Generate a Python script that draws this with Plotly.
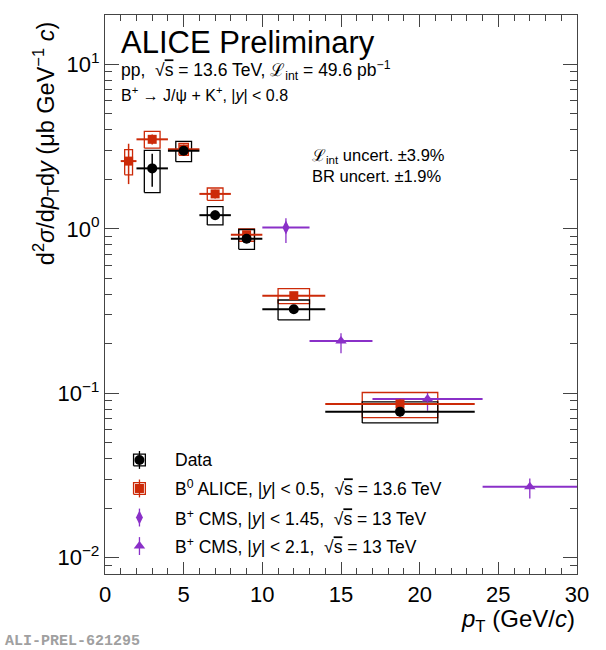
import plotly.graph_objects as go

# Data (black): B+ -> J/psi K+, |y|<0.8, 13.6 TeV
data_pt = [3, 5, 7, 9, 12, 18.75]
data_pt_lo = [2, 4, 6, 8, 10, 14]
data_pt_hi = [4, 6, 8, 10, 14, 23.5]
data_val = [2.33, 2.98, 1.21, 0.87, 0.324, 0.0773]
data_stat = [0.53, 0.15, 0.08, 0.05, 0.02, 0.005]
data_syst = [0.67, 0.42, 0.155, 0.12, 0.045, 0.0113]
data_box_hw = [0.5, 0.5, 0.5, 0.5, 1.0, 2.4]

# B0 ALICE, |y|<0.5, 13.6 TeV (red)
b0_pt = [1.5, 3, 5, 7, 9, 12, 18.75]
b0_pt_lo = [1, 2, 4, 6, 8, 10, 14]
b0_pt_hi = [2, 4, 6, 8, 10, 14, 23.5]
b0_val = [2.58, 3.50, 3.05, 1.63, 0.92, 0.392, 0.0861]
b0_stat = [0.71, 0.25, 0.2, 0.1, 0.05, 0.02, 0.006]
b0_syst = [0.45, 0.41, 0.25, 0.14, 0.08, 0.041, 0.015]
b0_box_hw = [0.25, 0.5, 0.3, 0.5, 0.5, 1.0, 2.4]

# B+ CMS, |y|<1.45, 13 TeV (purple diamonds)
cms1_pt = [11.5]
cms1_pt_lo = [10]
cms1_pt_hi = [13]
cms1_val = [1.02]
cms1_err_up = [0.14]
cms1_err_dn = [0.20]

# B+ CMS, |y|<2.1, 13 TeV (purple triangles)
cms2_pt = [15, 20.5, 27]
cms2_pt_lo = [13, 17, 24]
cms2_pt_hi = [17, 24, 30]
cms2_val = [0.208, 0.0923, 0.027]
cms2_err_up = [0.024, 0.0084, 0.0033]
cms2_err_dn = [0.033, 0.014, 0.0041]

black = "#000000"
red = "#cc2a08"
purple = "#8a30c8"
font = "Liberation Sans"
rs = "√<span style='text-decoration:overline'>s</span>"


def boxes(xs, ys, hw, err):
    bx, by = [], []
    for x, y, w, e in zip(xs, ys, hw, err):
        bx += [x - w, x + w, x + w, x - w, x - w, None]
        by += [y - e, y - e, y + e, y + e, y - e, None]
    return bx, by


def xerr(pt, lo, hi):
    return [h - p for p, h in zip(pt, hi)], [p - l for p, l in zip(pt, lo)]


fig = go.Figure()

# systematic boxes
bx, by = boxes(b0_pt, b0_val, b0_box_hw, b0_syst)
fig.add_trace(go.Scatter(x=bx, y=by, mode="lines", line=dict(color=red, width=1.3),
                         showlegend=False, hoverinfo="skip"))
bx, by = boxes(data_pt, data_val, data_box_hw, data_syst)
fig.add_trace(go.Scatter(x=bx, y=by, mode="lines", line=dict(color=black, width=1.3),
                         showlegend=False, hoverinfo="skip"))

# CMS points
ep, em = xerr(cms1_pt, cms1_pt_lo, cms1_pt_hi)
fig.add_trace(go.Scatter(
    x=cms1_pt, y=cms1_val, mode="markers",
    marker=dict(symbol="diamond-tall", size=10, color=purple),
    error_x=dict(type="data", symmetric=False, array=ep, arrayminus=em, width=0, thickness=2, color=purple),
    error_y=dict(type="data", symmetric=False, array=cms1_err_up, arrayminus=cms1_err_dn, width=0, thickness=1.3, color=purple),
    showlegend=False))
ep, em = xerr(cms2_pt, cms2_pt_lo, cms2_pt_hi)
fig.add_trace(go.Scatter(
    x=cms2_pt, y=cms2_val, mode="markers",
    marker=dict(symbol="triangle-up", size=10, color=purple),
    error_x=dict(type="data", symmetric=False, array=ep, arrayminus=em, width=0, thickness=2, color=purple),
    error_y=dict(type="data", symmetric=False, array=cms2_err_up, arrayminus=cms2_err_dn, width=0, thickness=1.3, color=purple),
    showlegend=False))

# B0 ALICE
ep, em = xerr(b0_pt, b0_pt_lo, b0_pt_hi)
fig.add_trace(go.Scatter(
    x=b0_pt, y=b0_val, mode="markers",
    marker=dict(symbol="square", size=9, color=red),
    error_x=dict(type="data", symmetric=False, array=ep, arrayminus=em, width=0, thickness=2, color=red),
    error_y=dict(type="data", array=b0_stat, width=0, thickness=1.5, color=red),
    showlegend=False))

# Data
ep, em = xerr(data_pt, data_pt_lo, data_pt_hi)
fig.add_trace(go.Scatter(
    x=data_pt, y=data_val, mode="markers",
    marker=dict(symbol="circle", size=10, color=black),
    error_x=dict(type="data", symmetric=False, array=ep, arrayminus=em, width=0, thickness=2, color=black),
    error_y=dict(type="data", array=data_stat, width=0, thickness=1.5, color=black),
    showlegend=False))

# hand-made legend on an overlay axis (0..1 over the frame)
leg_x = 0.073
leg_rows = [0.204, 0.153, 0.101, 0.050]
dx, dy = 0.0125, 0.0105
for yy, col in zip(leg_rows[:2], [black, red]):
    fig.add_trace(go.Scatter(x=[leg_x - dx, leg_x + dx, leg_x + dx, leg_x - dx, leg_x - dx],
                             y=[yy - dy, yy - dy, yy + dy, yy + dy, yy - dy],
                             mode="lines", line=dict(color=col, width=1.3),
                             xaxis="x2", yaxis="y2", showlegend=False, hoverinfo="skip"))
leg_sym = ["circle", "square", "diamond-tall", "triangle-up"]
leg_col = [black, red, purple, purple]
leg_size = [10, 9, 10, 10]
for yy, s, c, sz in zip(leg_rows, leg_sym, leg_col, leg_size):
    fig.add_trace(go.Scatter(x=[leg_x], y=[yy], mode="markers",
                             marker=dict(symbol=s, size=sz, color=c),
                             error_y=dict(type="constant", value=0.016, width=0, thickness=1.3, color=c),
                             xaxis="x2", yaxis="y2", showlegend=False, hoverinfo="skip"))

leg_text = [
    "Data",
    "B<sup>0</sup> ALICE, |<i>y</i>| < 0.5,  " + rs + " = 13.6 TeV",
    "B<sup>+</sup> CMS, |<i>y</i>| < 1.45,  " + rs + " = 13 TeV",
    "B<sup>+</sup> CMS, |<i>y</i>| < 2.1,  " + rs + " = 13 TeV",
]
annotations = []
for yy, t in zip(leg_rows, leg_text):
    annotations.append(dict(x=0.144, y=yy, xref="paper", yref="paper", text=t, showarrow=False,
                            xanchor="left", yanchor="middle", font=dict(size=17.5, color="black")))

annotations += [
    dict(x=0.03, y=0.985, xref="paper", yref="paper", text="ALICE Preliminary", showarrow=False,
         xanchor="left", yanchor="top", font=dict(size=31, color="black")),
    dict(x=0.03, y=0.900, xref="paper", yref="paper",
         text="pp,  " + rs + " = 13.6 TeV, ℒ<sub>int</sub> = 49.6 pb<sup>−1</sup>",
         showarrow=False, xanchor="left", yanchor="middle", font=dict(size=17.5, color="black")),
    dict(x=0.03, y=0.859, xref="paper", yref="paper",
         text="B<sup>+</sup> → J/ψ + K<sup>+</sup>, |<i>y</i>| < 0.8",
         showarrow=False, xanchor="left", yanchor="middle", font=dict(size=16, color="black")),
    dict(x=0.434, y=0.748, xref="paper", yref="paper", text="ℒ<sub>int</sub> uncert. ±3.9%",
         showarrow=False, xanchor="left", yanchor="middle", font=dict(size=16.5, color="black")),
    dict(x=0.434, y=0.712, xref="paper", yref="paper", text="BR uncert. ±1.9%",
         showarrow=False, xanchor="left", yanchor="middle", font=dict(size=16.5, color="black")),
    dict(x=-0.127, y=0.99, xref="paper", yref="paper",
         text="d<sup>2</sup><i>σ</i>/d<i>p</i><sub>T</sub>d<i>y</i> (μb GeV<sup>−1</sup> <i>c</i>)",
         textangle=-90, showarrow=False, xanchor="center", yanchor="top", font=dict(size=23.5, color="black")),
    dict(x=1.0, y=-0.083, xref="paper", yref="paper", text="<i>p</i><sub>T</sub> (GeV/<i>c</i>)",
         showarrow=False, xanchor="right", yanchor="middle", font=dict(size=24, color="black")),
    dict(x=-0.217, y=-0.121, xref="paper", yref="paper", text="<b>ALI-PREL-621295</b>",
         showarrow=False, xanchor="left", yanchor="middle",
         font=dict(size=15, color="#a0a0a0", family="Liberation Mono")),
]

axis_line = "#444444"
fig.update_layout(
    width=606, height=650,
    margin=dict(l=105, r=29, t=15, b=76),
    paper_bgcolor="white", plot_bgcolor="white",
    font=dict(family=font, color="black"),
    annotations=annotations,
    xaxis=dict(range=[0, 30], dtick=5, tick0=0, showgrid=False, zeroline=False,
               ticks="inside", ticklen=12, tickwidth=1, tickcolor=axis_line,
               minor=dict(dtick=1, ticks="inside", ticklen=6, tickcolor=axis_line, showgrid=False),
               showline=True, linecolor=axis_line, linewidth=1.3, mirror="allticks",
               tickfont=dict(size=22)),
    yaxis=dict(type="log", range=[-2.099, 1.30], showgrid=False, zeroline=False,
               tickvals=[0.01, 0.1, 1, 10],
               ticktext=["10<sup>−2</sup>", "10<sup>−1</sup>", "10<sup>0</sup>", "10<sup>1</sup>"],
               ticks="inside", ticklen=14, tickwidth=1, tickcolor=axis_line,
               minor=dict(dtick="D1", ticks="inside", ticklen=7, tickcolor=axis_line, showgrid=False),
               showline=True, linecolor=axis_line, linewidth=1.3, mirror="allticks",
               tickfont=dict(size=22)),
    xaxis2=dict(range=[0, 1], overlaying="x", visible=False),
    yaxis2=dict(range=[0, 1], overlaying="y", visible=False),
)

fig.write_html("out.html", config={"displayModeBar": False},
               post_script="document.body.style.margin='0';")
